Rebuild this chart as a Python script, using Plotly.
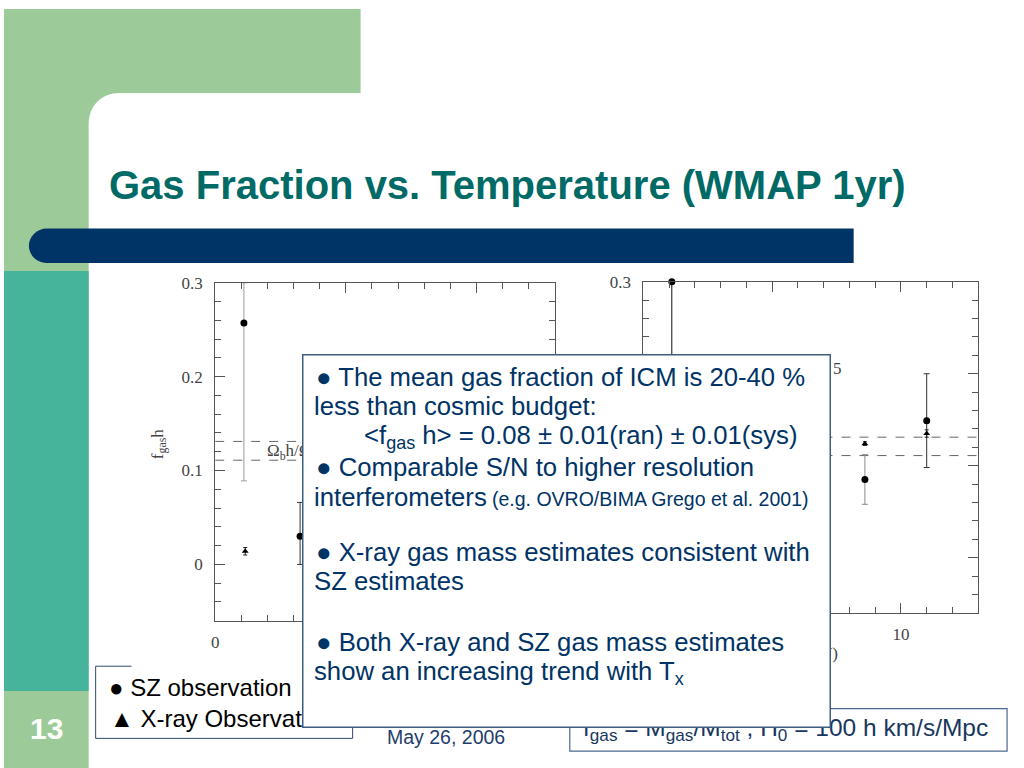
import plotly.graph_objects as go

# ---------------- data ----------------
left_sz_T = [1.1, 3.25]
left_sz_f = [0.257, 0.030]
left_sz_up = [0.043, 0.036]
left_sz_dn = [0.168, 0.030]
left_sz_col = ["#9a9a9a", "#333333"]

left_xr_T = [1.15]
left_xr_f = [0.014]
left_xr_err = [0.004]

right_sz_T = [1.1, 8.6, 11.0]
right_sz_f = [0.300, 0.085, 0.149]
right_sz_up = [0.0, 0.027, 0.051]
right_sz_dn = [0.20, 0.027, 0.051]
right_sz_col = ["#111111", "#8a8a8a", "#333333"]

right_xr_T = [8.6, 11.0]
right_xr_f = [0.124, 0.135]
right_xr_err = [0.002, 0.004]

omega_b_lines = [0.111, 0.131]
T_range = [0, 13]
f_range = [-0.06, 0.3]

title_text = "Gas Fraction vs. Temperature (WMAP 1yr)"
box_lines = [
    ("● The mean gas fraction of ICM is 20-40 %", 311, 372),
    ("less than cosmic budget:", 309, 402),
    ("&lt;f<sub>gas</sub> h&gt; = 0.08 ± 0.01(ran) ± 0.01(sys)", 359, 433),
    ("● Comparable S/N to higher resolution", 311, 463),
    ("interferometers", 309, 494),
    ("● X-ray gas mass estimates consistent with", 311, 549),
    ("SZ estimates", 309, 579),
    ("● Both X-ray and SZ gas mass estimates", 311, 641),
    ("show an increasing trend with T<sub>x</sub>", 309, 672),
]
small_ref = "(e.g. OVRO/BIMA Grego et al. 2001)"
legend_items = ["● SZ observation", "▲ X-ray Observation"]
footer_date = "May 26, 2006"
footer_formula = "f<sub>gas</sub> = M<sub>gas</sub>/M<sub>tot</sub> , H<sub>0</sub> = 100 h km/s/Mpc"
slide_no = "13"

# ---------------- helpers ----------------
W, H = 1024, 768
def px(x):
    return x / W
def py(y):
    return 1 - y / H
def pt(x, y):
    return f"{px(x):.5f},{py(y):.5f}"

SANS = "Liberation Sans, Arial, sans-serif"
SERIF = "Liberation Serif, Times New Roman, serif"
NAVY = "#003366"
AXC = "#555555"

fig = go.Figure()

def add_sz(xs, ys, ups, dns, cols, xa, ya):
    for x, y, u, d, c in zip(xs, ys, ups, dns, cols):
        fig.add_trace(go.Scatter(
            x=[x], y=[y], mode="markers", xaxis=xa, yaxis=ya,
            marker=dict(symbol="circle", size=7, color="black"),
            error_y=dict(type="data", symmetric=False, array=[u], arrayminus=[d],
                         color=c, thickness=1, width=3),
            cliponaxis=False, showlegend=False, hoverinfo="skip"))

def add_xr(xs, ys, errs, xa, ya):
    fig.add_trace(go.Scatter(
        x=xs, y=ys, mode="markers", xaxis=xa, yaxis=ya,
        marker=dict(symbol="triangle-up", size=6, color="black"),
        error_y=dict(type="data", array=errs, color="#222222", thickness=1, width=2),
        cliponaxis=False, showlegend=False, hoverinfo="skip"))

def add_omega(xa, ya):
    for v in omega_b_lines:
        fig.add_trace(go.Scatter(
            x=T_range, y=[v, v], mode="lines", xaxis=xa, yaxis=ya,
            line=dict(color="#666666", width=1, dash="dash"),
            showlegend=False, hoverinfo="skip"))

add_omega("x", "y")
add_omega("x2", "y2")
add_sz(left_sz_T, left_sz_f, left_sz_up, left_sz_dn, left_sz_col, "x", "y")
add_xr(left_xr_T, left_xr_f, left_xr_err, "x", "y")
add_sz(right_sz_T, right_sz_f, right_sz_up, right_sz_dn, right_sz_col, "x2", "y2")
add_xr(right_xr_T, right_xr_f, right_xr_err, "x2", "y2")

def xaxis_cfg(dom, anchor):
    return dict(domain=dom, anchor=anchor, range=T_range, tick0=0, dtick=5,
                ticks="inside", ticklen=10, tickwidth=1, tickcolor=AXC,
                minor=dict(dtick=1, ticks="inside", ticklen=6, tickcolor=AXC, tickwidth=1),
                mirror="allticks", showline=True, linecolor=AXC, linewidth=1,
                showgrid=False, zeroline=False, ticklabelstandoff=6,
                tickfont=dict(family=SERIF, size=17, color="#444444"))

def yaxis_cfg(dom, anchor):
    return dict(domain=dom, anchor=anchor, range=f_range, tick0=0, dtick=0.1,
                ticks="inside", ticklen=10, tickwidth=1, tickcolor=AXC,
                minor=dict(dtick=0.02, ticks="inside", ticklen=6, tickcolor=AXC, tickwidth=1),
                mirror="allticks", showline=True, linecolor=AXC, linewidth=1,
                showgrid=False, zeroline=False, ticklabelstandoff=8,
                tickfont=dict(family=SERIF, size=17, color="#444444"))

fig.update_layout(
    width=W, height=H, margin=dict(l=0, r=0, t=0, b=0),
    paper_bgcolor="white", plot_bgcolor="rgba(0,0,0,0)",
    xaxis=xaxis_cfg([px(212), px(553)], "y"),
    yaxis=yaxis_cfg([py(619), py(277)], "x"),
    xaxis2=xaxis_cfg([px(642), px(978)], "y2"),
    yaxis2=yaxis_cfg([py(611), py(276)], "x2"),
)

GREEN = "#9ccb99"
shapes = [
    dict(type="rect", x0=0, x1=px(358), y0=py(120), y1=1, fillcolor=GREEN, line_width=0),
    dict(type="rect", x0=0, x1=px(85), y0=0, y1=1, fillcolor=GREEN, line_width=0),
    dict(type="path", path=f"M {pt(85,121)} L {pt(85,116)} C {pt(85,98)} {pt(98,85)} {pt(116,85)} L {pt(359,85)} L {pt(359,121)} Z",
         fillcolor="white", line_width=0),
    dict(type="rect", x0=0, x1=px(85), y0=py(690), y1=py(265), fillcolor="#46b49a", line_width=0),
    dict(type="path", path=(f"M {pt(43,222)} L {pt(853,222)} L {pt(853,257)} L {pt(43,257)} "
                            f"C {pt(33,257)} {pt(25,249)} {pt(25,239.5)} C {pt(25,230)} {pt(33,222)} {pt(43,222)} Z"),
         fillcolor="#003366", line_width=0),
    # legend box (partially visible top edge)
    dict(type="line", x0=px(92), x1=px(128), y0=py(665), y1=py(665), line=dict(color="#2e4a6e", width=1)),
    dict(type="line", x0=px(92), x1=px(92), y0=py(665), y1=py(738), line=dict(color="#2e4a6e", width=1)),
    dict(type="line", x0=px(92), x1=px(350), y0=py(738), y1=py(738), line=dict(color="#2e4a6e", width=1)),
    dict(type="line", x0=px(350), x1=px(350), y0=py(665), y1=py(738), line=dict(color="#2e4a6e", width=1)),
    # footer formula box
    dict(type="rect", x0=px(568), x1=px(1007), y0=py(751), y1=py(708), fillcolor="white",
         line=dict(color="#4a6a8e", width=1.2)),
]
for s in shapes:
    s.update(xref="paper", yref="paper", layer="below")
fig.update_layout(shapes=shapes)

anns = []
def ann(text, x, y, size, color, family=SANS, xanchor="left", yanchor="middle", **kw):
    d = dict(text=text, x=px(x), y=py(y), xref="paper", yref="paper", showarrow=False,
             xanchor=xanchor, yanchor=yanchor, font=dict(size=size, color=color, family=family))
    d.update(kw)
    anns.append(d)

# title and slide number
ann(f"<b>{title_text}</b>", 103, 178, 40, "#006a66")
ann(f"<b>{slide_no}</b>", 43, 728, 30, "white", xanchor="center")

# plot labels
ann("f<sub>gas</sub>h", 155, 440, 17, "#444444", family=SERIF, xanchor="center", textangle=-90)
ann("Ω<sub>b</sub>h/Ω<sub>m</sub>", 262, 448, 17, "#444444", family=SERIF)
ann("T (keV)", 382, 660, 17, "#444444", family=SERIF, xanchor="center")
ann("T (keV)", 810, 652, 17, "#444444", family=SERIF, xanchor="center")
ann("5", 837, 364, 17, "#444444", family=SERIF, xanchor="center")

# legend and footer (drawn before the text box so it covers them)
ann(legend_items[0], 103, 687, 24, "black")
ann(legend_items[1], 104, 718, 24, "black")
ann(footer_date, 382, 737, 19.5, "#1f3d6b")
ann(footer_formula, 579, 729, 24.5, "#17375e")

# the white text box
ann(" ", 299, 349, 10, NAVY, xanchor="left", yanchor="top", width=526, height=371,
    bgcolor="white", bordercolor="#3e5e80", borderwidth=1.5, borderpad=0)
for txt, x, y in box_lines:
    ann(txt, x, y, 25.7, NAVY)
ann(small_ref, 488, 496, 19.5, NAVY)

fig.update_layout(annotations=anns)

post = ("document.documentElement.style.margin='0';document.body.style.margin='0';"
        "document.body.style.overflow='hidden';"
        "var d=document.getElementsByClassName('plotly-graph-div')[0];"
        "d.style.position='fixed';d.style.left='0px';d.style.top='0px';")
fig.write_html("out.html", config={"displayModeBar": False}, post_script=post)
